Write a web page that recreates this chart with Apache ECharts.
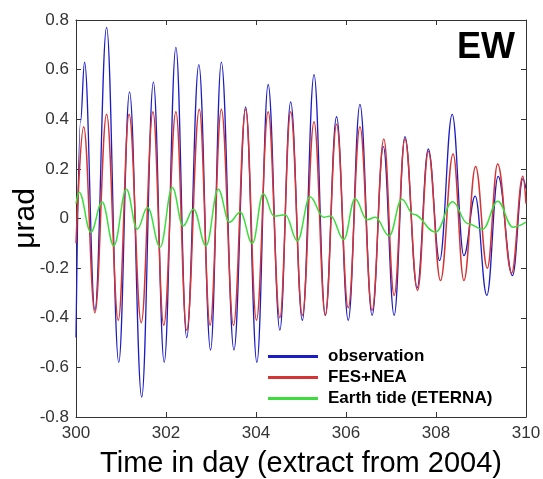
<!DOCTYPE html>
<html>
<head>
<meta charset="utf-8">
<script src="https://cdn.jsdelivr.net/npm/echarts@6/dist/echarts.min.js"></script>
<style>
  html, body { margin: 0; padding: 0; background: #fff; }
  #chart { width: 543px; height: 479px; }
</style>
</head>
<body>
<div id="chart"></div>
<script>
  // 读图得到的极值点（天, μrad）
  var obsDays = [300.00, 300.10, 300.19, 300.42, 300.68, 300.95, 301.19, 301.46, 301.72, 301.96, 302.22, 302.46, 302.73, 302.99, 303.23, 303.51, 303.77, 304.02, 304.27, 304.53, 304.77, 305.03, 305.29, 305.54, 305.79, 306.05, 306.31, 306.58, 306.83, 307.07, 307.31, 307.58, 307.83, 308.08, 308.36, 308.62, 308.87, 309.13, 309.38, 309.70, 309.93, 310.00];
  var obsVals = [-0.48, 0.39, 0.63, -0.37, 0.77, -0.58, 0.51, -0.72, 0.55, -0.58, 0.69, -0.48, 0.62, -0.53, 0.63, -0.53, 0.45, -0.58, 0.54, -0.45, 0.47, -0.41, 0.58, -0.39, 0.41, -0.41, 0.46, -0.39, 0.29, -0.39, 0.33, -0.28, 0.28, -0.17, 0.42, -0.15, 0.09, -0.31, 0.17, -0.23, 0.16, 0.12];

  var fesDays = [300.00, 300.17, 300.42, 300.68, 300.94, 301.18, 301.45, 301.71, 301.95, 302.22, 302.46, 302.74, 302.98, 303.23, 303.50, 303.77, 304.01, 304.27, 304.53, 304.77, 305.03, 305.29, 305.54, 305.79, 306.05, 306.31, 306.58, 306.84, 307.07, 307.31, 307.59, 307.83, 308.10, 308.38, 308.62, 308.88, 309.14, 309.37, 309.68, 309.93, 310.00];
  var fesVals = [-0.10, 0.37, -0.38, 0.42, -0.41, 0.42, -0.42, 0.43, -0.43, 0.43, -0.45, 0.44, -0.43, 0.44, -0.43, 0.44, -0.41, 0.43, -0.40, 0.43, -0.39, 0.39, -0.39, 0.38, -0.36, 0.37, -0.37, 0.32, -0.31, 0.32, -0.29, 0.27, -0.25, 0.26, -0.25, 0.21, -0.20, 0.22, -0.22, 0.17, 0.06];

  var tideDays = [300.00, 300.07, 300.33, 300.58, 300.84, 301.12, 301.36, 301.59, 301.87, 302.14, 302.38, 302.61, 302.89, 303.16, 303.41, 303.65, 303.92, 304.16, 304.40, 304.65, 304.92, 305.20, 305.50, 305.66, 305.95, 306.20, 306.47, 306.65, 306.96, 307.24, 307.50, 307.99, 308.37, 308.70, 309.04, 309.37, 309.71, 310.00];
  var tideVals = [0.06, 0.106, -0.055, 0.066, -0.11, 0.118, -0.043, 0.044, -0.115, 0.125, -0.03, 0.037, -0.11, 0.118, -0.015, 0.025, -0.10, 0.10, 0.01, 0.015, -0.09, 0.088, 0.005, 0.01, -0.085, 0.08, -0.005, 0.005, -0.07, 0.078, 0.017, -0.055, 0.068, -0.02, -0.043, 0.07, -0.035, -0.015];

  var seriesNames = ['observation', 'FES+NEA', 'Earth tide (ETERNA)'];
  var xTicks = [300, 302, 304, 306, 308, 310];

  function pairs(days, vals) {
    return days.map(function (d, i) { return [d, vals[i]] })
  }

  var font = 'Liberation Sans, Arial, sans-serif';
  var chart = echarts.init(document.getElementById('chart'));

  var axisCommon = {
    axisLine: { show: true, onZero: false, lineStyle: { color: '#333', width: 1 } },
    axisTick: { show: true, inside: true, length: 5, lineStyle: { color: '#333' } },
    splitLine: { show: false }
  };

  var option = {
    animation: false,
    backgroundColor: '#fff',
    grid: { left: 76, right: 17, top: 20, bottom: 62, outerBoundsMode: 'none', containLabel: false },
    xAxis: [
      Object.assign({
        type: 'value',
        min: xTicks[0],
        max: xTicks[xTicks.length - 1],
        interval: 2,
        name: 'Time in day (extract from 2004)',
        nameLocation: 'middle',
        nameGap: 32,
        nameMoveOverlap: false,
        nameTextStyle: { fontSize: 29, color: '#000', fontFamily: font },
        axisLabel: { fontSize: 17, color: '#333', margin: 8, fontFamily: font }
      }, axisCommon),
      Object.assign({
        type: 'value', position: 'top',
        min: xTicks[0], max: xTicks[xTicks.length - 1], interval: 2,
        axisLabel: { show: false }
      }, axisCommon)
    ],
    yAxis: [
      Object.assign({
        type: 'value',
        min: -0.8, max: 0.8, interval: 0.2,
        name: 'μrad',
        nameLocation: 'middle',
        nameRotate: 90,
        nameGap: 35,
        nameMoveOverlap: false,
        nameTextStyle: { fontSize: 30, color: '#000', fontFamily: font },
        axisLabel: { fontSize: 17, color: '#333', margin: 7, fontFamily: font }
      }, axisCommon),
      Object.assign({
        type: 'value', position: 'right',
        min: -0.8, max: 0.8, interval: 0.2,
        axisLabel: { show: false }
      }, axisCommon)
    ],
    legend: {
      orient: 'vertical',
      left: 263,
      top: 343,
      icon: 'rect',
      itemWidth: 50,
      itemHeight: 3,
      itemGap: 4,
      textStyle: { fontSize: 17, fontWeight: 'bold', color: '#000', fontFamily: font, padding: [0, 0, 0, 5] },
      data: seriesNames
    },
    graphic: [{
      type: 'text',
      left: 457,
      top: 30,
      style: { text: 'EW', fill: '#000', font: 'bold 36px Liberation Sans, Arial, sans-serif' }
    }],
    series: [
      {
        name: seriesNames[0], type: 'line', smooth: 0.4, smoothMonotone: 'x', symbol: 'none',
        color: '#1c1cc4',
        lineStyle: { width: 1.3, color: '#1c1cc4' },
        data: pairs(obsDays, obsVals)
      },
      {
        name: seriesNames[1], type: 'line', smooth: 0.4, smoothMonotone: 'x', symbol: 'none',
        color: '#d43434',
        lineStyle: { width: 1.5, color: '#d43434' },
        data: pairs(fesDays, fesVals)
      },
      {
        name: seriesNames[2], type: 'line', smooth: 0.4, smoothMonotone: 'x', symbol: 'none',
        color: '#3ddc3d',
        lineStyle: { width: 1.5, color: '#3ddc3d' },
        data: pairs(tideDays, tideVals)
      }
    ]
  };

  chart.setOption(option);
</script>
</body>
</html>
